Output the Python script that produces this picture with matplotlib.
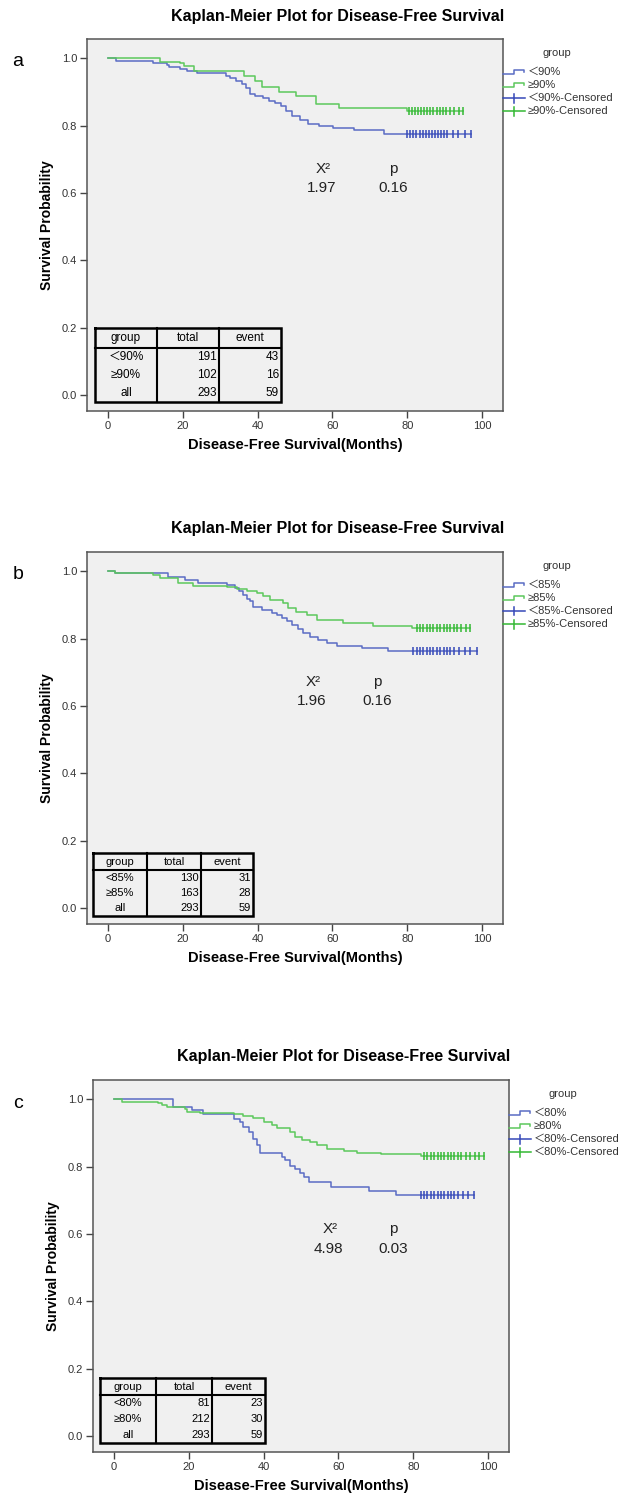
import matplotlib
matplotlib.use("Agg")
import matplotlib.pyplot as plt
from matplotlib.lines import Line2D

plt.rcParams['font.family'] = ['Liberation Sans', 'Noto Sans CJK SC', 'DejaVu Sans']

W, H = 619, 1496

# ---------------- data ----------------
title = "Kaplan-Meier Plot for Disease-Free Survival"
xlabel = "Disease-Free Survival(Months)"
ylabel = "Survival Probability"
xticks = [0, 20, 40, 60, 80, 100]
yticks = [0.0, 0.2, 0.4, 0.6, 0.8, 1.0]

# panel a
a_lt_times = [0, 2.1, 12.1, 15.7, 16.4, 19.3, 21.0, 23.7, 31.5, 32.7, 34.2, 35.8, 36.8, 37.9, 39.4,
              41.5, 43.0, 44.6, 46.2, 47.7, 49.3, 51.3, 53.4, 56.5, 60.2, 65.9, 73.7]
a_lt_surv = [1.0, 0.993, 0.987, 0.980, 0.973, 0.967, 0.963, 0.957, 0.948, 0.94, 0.932, 0.922, 0.91, 0.894,
             0.889, 0.882, 0.874, 0.867, 0.857, 0.842, 0.827, 0.817, 0.804, 0.798, 0.792, 0.787, 0.775]
a_lt_cens = [79.9, 80.8, 81.6, 82.4, 83.3, 84.1, 84.9, 85.7, 86.6, 87.4, 88.2, 89.0, 89.8, 90.6,
             92.2, 93.7, 95.5, 97.0]
a_ge_times = [0, 13.9, 19.3, 20.2, 22.9, 36.3, 39.4, 41.2, 45.6, 50.3, 55.5, 61.7, 79.9]
a_ge_surv = [1.0, 0.99, 0.985, 0.977, 0.963, 0.947, 0.932, 0.914, 0.90, 0.887, 0.864, 0.852, 0.844]
a_ge_cens = [80.4, 81.2, 82.0, 82.9, 83.7, 84.5, 85.4, 86.2, 87.0, 87.9, 88.7, 89.5, 90.3, 91.5,
             92.5, 93.8, 95.0]
a_legend = ["＜90%", "≥90%", "＜90%-Censored", "≥90%-Censored"]
a_table = [["group", "total", "event"], ["＜90%", "191", "43"], ["≥90%", "102", "16"], ["all", "293", "59"]]
a_stats = ["1.97", "0.16"]

# panel b
b_lt_times = [0, 1.9, 16.1, 20.6, 24.2, 31.7, 34.0, 34.9, 36.2, 37.1, 37.9, 38.8, 41.1, 43.8, 45.1,
              46.4, 47.8, 49.1, 50.9, 52.2, 54.0, 56.2, 58.5, 61.1, 67.8, 74.9]
b_lt_surv = [1.0, 0.996, 0.984, 0.974, 0.966, 0.959, 0.950, 0.940, 0.928, 0.918, 0.910, 0.895, 0.885,
             0.877, 0.870, 0.860, 0.853, 0.841, 0.828, 0.816, 0.804, 0.796, 0.788, 0.778, 0.771, 0.764]
b_lt_cens = [81.6, 82.5, 83.4, 84.3, 85.2, 86.1, 87.0, 87.9, 88.8, 89.7, 90.6, 91.5, 92.6, 93.9,
             95.5, 96.8, 98.6]
b_ge_times = [0, 1.9, 12.1, 13.9, 18.7, 22.8, 31.7, 34.4, 37.1, 39.8, 41.5, 43.3, 46.8, 48.2, 50.4,
              53.1, 55.8, 62.9, 70.9, 81.2]
b_ge_surv = [1.0, 0.996, 0.989, 0.979, 0.964, 0.956, 0.952, 0.947, 0.940, 0.935, 0.927, 0.915, 0.905,
             0.890, 0.880, 0.870, 0.855, 0.846, 0.836, 0.831]
b_ge_cens = [82.5, 83.4, 84.3, 85.2, 86.1, 87.0, 87.9, 88.8, 89.7, 90.6, 91.5, 92.4, 93.3, 94.5,
             95.6, 96.8]
b_legend = ["＜85%", "≥85%", "＜85%-Censored", "≥85%-Censored"]
b_table = [["group", "total", "event"], ["<85%", "130", "31"], ["≥85%", "163", "28"], ["all", "293", "59"]]
b_stats = ["1.96", "0.16"]

# panel c
c_lt_times = [0, 15.9, 20.8, 23.9, 32.0, 33.8, 34.6, 36.0, 37.3, 38.2, 39.1, 44.9, 45.8, 47.1, 48.5,
              49.8, 50.7, 52.1, 57.9, 68.1, 75.3]
c_lt_surv = [1.0, 0.978, 0.968, 0.955, 0.94, 0.933, 0.918, 0.903, 0.883, 0.863, 0.84, 0.828, 0.818,
             0.803, 0.793, 0.78, 0.768, 0.753, 0.74, 0.728, 0.716]
c_lt_cens = [82.0, 82.9, 83.8, 84.7, 85.6, 86.5, 87.4, 88.3, 89.2, 90.1, 91.0, 92.0, 93.2, 94.6, 96.3]
c_ge_times = [0, 2.1, 11.9, 12.8, 14.1, 19.0, 19.5, 23.0, 32.0, 34.6, 37.3, 40.0, 42.2, 43.6, 47.1,
              48.5, 50.3, 52.5, 54.3, 57.0, 61.4, 65.0, 71.3, 82.0]
c_ge_surv = [1.0, 0.993, 0.988, 0.983, 0.978, 0.97, 0.963, 0.958, 0.955, 0.95, 0.943, 0.933, 0.923,
             0.913, 0.903, 0.888, 0.88, 0.873, 0.863, 0.853, 0.846, 0.84, 0.836, 0.83]
c_ge_cens = [82.9, 83.8, 84.7, 85.6, 86.5, 87.4, 88.3, 89.2, 90.1, 91.0, 91.9, 92.8, 94.0, 95.2,
             96.4, 97.6, 98.9]
c_legend = ["＜80%", "≥80%", "＜80%-Censored", "＜80%-Censored"]
c_table = [["group", "total", "event"], ["<80%", "81", "23"], ["≥80%", "212", "30"], ["all", "293", "59"]]
c_stats = ["4.98", "0.03"]

# ---------------- style ----------------
BLUE = '#5a6cc4'
BLUE_C = '#3548b8'
GREEN = '#5cc85c'
GREEN_C = '#33b833'
BG = '#f0f0f0'
TXT = '#333333'

fig = plt.figure(figsize=(W / 100, H / 100), dpi=100)


def fx(x):
    return x / W


def fy(y):
    return 1 - y / H


def fig_line(xs, ys, **kw):
    fig.add_artist(Line2D([fx(x) for x in xs], [fy(y) for y in ys], transform=fig.transFigure, **kw))


def draw_table(rows, left, top, cols, right, head_h, row_h, fs):
    bottom = top + head_h + row_h * (len(rows) - 1)
    edges = [left] + cols + [right]
    fig_line([left, right, right, left, left], [top, top, bottom, bottom, top], color='black', lw=1.8,
             solid_joinstyle='miter')
    for c in cols:
        fig_line([c, c], [top, bottom], color='black', lw=1.5)
    fig_line([left, right], [top + head_h, top + head_h], color='black', lw=1.5)
    for r, row in enumerate(rows):
        if r == 0:
            yc = top + head_h / 2
        else:
            yc = top + head_h + row_h * (r - 0.5)
        for c, val in enumerate(row):
            x0, x1 = edges[c], edges[c + 1]
            if r == 0 or c == 0:
                fig.text(fx((x0 + x1) / 2), fy(yc), val, ha='center', va='center', fontsize=fs, color='black')
            else:
                fig.text(fx(x1 - 2), fy(yc), val, ha='right', va='center', fontsize=fs, color='black')


def draw_legend(labels, x0, y0):
    fig.text(fx(x0 + 54), fy(y0 + 53), "group", ha='center', va='center', fontsize=8, color=TXT)
    ys = [y0 + 72, y0 + 85, y0 + 98, y0 + 111]
    cols = [BLUE, GREEN, BLUE_C, GREEN_C]
    for i, (lab, yy) in enumerate(zip(labels, ys)):
        if i < 2:
            fig_line([x0, x0 + 11, x0 + 11, x0 + 21, x0 + 21], [yy + 2, yy + 2, yy - 2.5, yy - 2.5, yy],
                     color=cols[i], lw=1.1)
        else:
            fig_line([x0, x0 + 22], [yy, yy], color=cols[i], lw=1.1)
            fig_line([x0 + 11, x0 + 11], [yy - 4.5, yy + 4.5], color=cols[i], lw=1.1)
        fig.text(fx(x0 + 25), fy(yy), lab, ha='left', va='center', fontsize=8, color=TXT)


def panel(dx, dy, letter, lt_t, lt_s, lt_c, ge_t, ge_s, ge_c, legend, table, stats, stat_pos,
          tbl_geom, tfs):
    left, top, right, bottom = 87 + dx, 39 + dy, 503 + dx, 411 + dy
    ax = fig.add_axes([fx(left), fy(bottom), fx(right - left), (bottom - top) / H])
    ax.set_facecolor(BG)
    ax.set_xlim(-5.6, 105.6)
    ax.set_ylim(-0.048, 1.057)
    for t, s, c, col, ccol in [(lt_t, lt_s, lt_c, BLUE, BLUE_C), (ge_t, ge_s, ge_c, GREEN, GREEN_C)]:
        ax.step(list(t) + [c[-1]], list(s) + [s[-1]], where='post', color=col, lw=1.1, zorder=3)
        ax.plot(c, [s[-1]] * len(c), ls='none', marker='|', ms=6, mew=1.1, color=ccol, zorder=4)
    ax.set_xticks(xticks)
    ax.set_yticks(yticks)
    ax.set_xticklabels([str(v) for v in xticks])
    ax.set_yticklabels([f"{v:.1f}" for v in yticks])
    ax.tick_params(axis='both', direction='out', length=5, width=1, colors='#444444', labelsize=8,
                   labelcolor=TXT, pad=2)
    for sp in ax.spines.values():
        sp.set_color('#555555')
        sp.set_linewidth(1.1)
    ax.set_xlabel(xlabel, fontsize=10.5, fontweight='bold', color='black')
    ax.set_ylabel(ylabel, fontsize=10, fontweight='bold', color='black')
    ax.xaxis.set_label_coords(0.5, -0.072)
    ax.yaxis.set_label_coords(-0.08, 0.5)
    xq, xp, yh, yn = stat_pos
    ax.text(xq, yh, "X²", ha='center', va='center', fontsize=11, color='#222222')
    ax.text(xp, yh, "p", ha='center', va='center', fontsize=11, color='#222222')
    ax.text(xq - 0.5, yn, stats[0], ha='center', va='center', fontsize=11, color='#222222')
    ax.text(xp, yn, stats[1], ha='center', va='center', fontsize=11, color='#222222')
    fig.text(fx(338 + dx), fy(16 + dy), title, ha='center', va='center', fontsize=11.5, fontweight='bold')
    fig.text(fx(18), fy(62 + dy), letter, ha='center', va='center', fontsize=14)
    draw_legend(legend, right, dy)
    tl, tt, tc, tr, hh, rh = tbl_geom
    draw_table(table, tl + dx, tt + dy, [c + dx for c in tc], tr + dx, hh, rh, tfs)
    return ax


panel(0, 0, 'a', a_lt_times, a_lt_surv, a_lt_cens, a_ge_times, a_ge_surv, a_ge_cens,
      a_legend, a_table, a_stats, (57.5, 76.3, 0.672, 0.614), (95, 328, [157, 219], 281, 20, 18), 8.5)
panel(0, 513, 'b', b_lt_times, b_lt_surv, b_lt_cens, b_ge_times, b_ge_surv, b_ge_cens,
      b_legend, b_table, b_stats, (55.0, 72.0, 0.672, 0.614), (93, 340, [147, 201], 253, 17, 15.3), 8)
panel(6, 1041, 'c', c_lt_times, c_lt_surv, c_lt_cens, c_ge_times, c_ge_surv, c_ge_cens,
      c_legend, c_table, c_stats, (57.8, 74.6, 0.613, 0.555), (94, 337, [150, 206], 259, 17, 16), 8)

fig.savefig("out.png", dpi=100, facecolor='white')
